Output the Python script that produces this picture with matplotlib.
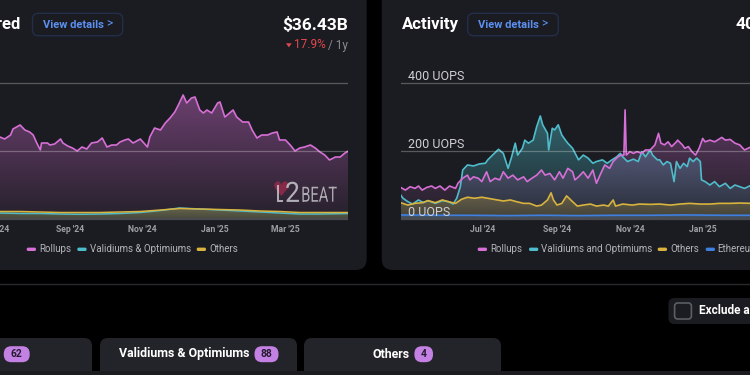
import numpy as np
import pandas as pd
import matplotlib
matplotlib.use('Agg')
import matplotlib.pyplot as plt
import matplotlib.colors as mcolors
import matplotlib.dates as mdates
from matplotlib.patches import FancyBboxPatch, PathPatch, Polygon, Rectangle
from matplotlib.lines import Line2D
from matplotlib.textpath import TextPath
from matplotlib.font_manager import FontProperties
from matplotlib.transforms import IdentityTransform, Affine2D

plt.rcParams['font.family'] = ['Roboto', 'DejaVu Sans']

# ---- data (days counted from 1 Jul 2024) ----
START = pd.Timestamp('2024-07-01')
tick_dates = ['2024-07-01', '2024-09-01', '2024-11-01', '2025-01-01', '2025-03-01']
tick_labels = ["Jul '24", "Sep '24", "Nov '24", "Jan '25", "Mar '25"]

# Value secured, $B
tvs_days = [3, 7, 12, 14, 20, 24, 28, 31, 34, 37, 38, 43, 45, 49, 54, 56, 60, 64, 68, 72,
            76, 80, 85, 89, 93, 97, 101, 104, 108, 111, 115, 121, 127, 129, 133, 138, 142, 146, 150, 153,
            157, 160, 164, 167, 171, 174, 177, 181, 186, 188, 192, 196, 199, 202, 207, 212, 215, 219, 223, 228,
            232, 236, 238, 243, 247, 251, 255, 259, 264, 268, 272, 276, 280, 285, 289, 293, 296]
tvs_rollups = [41, 40, 42, 45, 47, 44.5, 43.5, 42, 38, 34.5, 38, 38, 37, 37.5, 40, 38, 36.5, 35.5, 34, 36,
               35, 38, 38.5, 40.5, 36, 37, 37, 38.5, 39.5, 40, 38, 40, 36, 41, 45.5, 44.5, 48, 50.5, 53.5, 57,
               62, 58, 60.5, 61, 54.5, 53, 54.5, 53, 58, 58.5, 51, 53, 54.5, 51, 48.5, 48.5, 44.5, 40.5, 42, 42,
               43, 43.5, 39.5, 39.5, 37, 34, 35.5, 36, 37, 35.5, 33.5, 32, 29.5, 31, 31, 33, 34]
tvs_small_days = [3, 20, 37, 54, 70, 87, 104, 121, 138, 154, 171, 188, 205, 222, 238, 255, 272, 296]
tvs_others = [3.75, 3.75, 3.5, 3.25, 3.25, 3.25, 3.5, 3.75, 4.5, 5.25, 5, 4.75, 4.5, 4, 3.75, 3.25, 3.25, 3.25]
tvs_validiums = [3, 2.75, 2.75, 2.5, 2.35, 2.5, 2.75, 3.25, 4.25, 5.5, 5, 4.5, 4, 3.5, 3, 2.5, 2.5, 2.75]

# Activity, UOPS
act_roll_days = [-69, -65, -61, -57, -54, -51, -47, -43, -40, -36, -32, -28, -23, -21, -17, -13, -11, -8, -4, -1,
                 3, 6, 10, 14, 17, 21, 25, 29, 34, 37, 41, 45, 49, 52, 56, 60, 64, 67, 71, 75,
                 77, 80, 84, 88, 92, 95, 98, 102, 106, 109, 113, 116, 118, 119, 120, 123, 126, 129, 133, 136,
                 140, 144, 147, 149, 152, 155, 158, 162, 163, 167, 169, 172, 175, 178, 181, 184, 186, 190, 194, 200,
                 203, 207, 211, 215, 219, 225]
act_rollups = [93, 85, 95, 90, 97, 85, 93, 97, 90, 97, 85, 97, 90, 105, 120, 129, 115, 124, 120, 110,
               139, 110, 120, 115, 139, 120, 129, 115, 124, 110, 120, 129, 144, 129, 134, 115, 139, 120, 149, 139,
               115, 124, 139, 120, 144, 105, 129, 159, 149, 169, 183, 188, 188, 321, 188, 198, 193, 198, 193, 203,
               203, 218, 252, 223, 218, 227, 213, 227, 232, 218, 208, 213, 198, 188, 208, 237, 227, 232, 227, 240,
               232, 234, 223, 218, 203, 213]
act_val_days = [-69, -67, -63, -59, -54, -50, -46, -40, -34, -29, -25, -22, -19, -17, -13, -8, -3, 2, 4, 8,
                13, 17, 21, 24, 27, 29, 33, 35, 38, 42, 45, 48, 50, 54, 55, 58, 60, 63, 66, 69,
                71, 75, 80, 84, 88, 92, 95, 100, 104, 108, 112, 115, 117, 121, 126, 130, 133, 136, 140, 142,
                146, 148, 151, 154, 157, 160, 162, 165, 168, 171, 173, 176, 179, 182, 183, 186, 190, 194, 198, 203,
                207, 211, 215, 219, 225]
act_validiums = [71, 61, 51, 44, 56, 48, 54, 46, 54, 51, 44, 61, 95, 144, 159, 156, 162, 164, 174, 188,
                 205, 193, 149, 183, 223, 188, 208, 232, 223, 232, 272, 303, 277, 252, 203, 267, 262, 277, 247, 232,
                 223, 208, 174, 188, 179, 164, 169, 174, 164, 174, 183, 193, 183, 169, 176, 169, 198, 183, 203, 188,
                 174, 174, 159, 169, 164, 110, 169, 149, 164, 154, 179, 169, 179, 169, 115, 110, 100, 110, 95, 105,
                 90, 100, 95, 90, 100]
act_oth_days = [-69, -63, -57, -51, -46, -40, -34, -29, -23, -18, -13, -7, -1, 4, 12, 17, 23, 28, 34, 39,
                45, 49, 54, 57, 59, 62, 66, 70, 75, 79, 84, 90, 95, 101, 105, 109, 111, 117, 125, 131,
                140, 148, 157, 165, 173, 182, 190, 198, 207, 215, 225]
act_others = [48, 41, 46, 48, 54, 48, 56, 51, 46, 58, 64, 61, 64, 61, 56, 53, 56, 51, 46, 46,
              38, 41, 56, 77, 56, 41, 46, 68, 51, 38, 41, 44, 38, 41, 38, 56, 38, 44, 41, 44,
              43, 44, 41, 44, 46, 44, 44, 46, 46, 47, 46]
act_eth_days = [-69, -40, -10, 20, 50, 80, 110, 140, 170, 200, 225]
act_ethereum = [12, 11, 11, 10, 11, 10, 11, 11, 12, 11, 11]

PINK, TEAL, YELLOW, BLUE = '#d66fd6', '#4fbccb', '#d8b33e', '#3f7fe0'
CARD, TAB = '#1b1c21', '#232429'

W, H = 750, 375
fig = plt.figure(figsize=(W / 100, H / 100), dpi=100, facecolor='#000000')
PX = IdentityTransform()


def to_dates(days):
    return START + pd.to_timedelta(days, unit='D')


def box(x0, y0, x1, y1, color, r=8, ec='none', lw=0, z=0.5):
    fig.add_artist(FancyBboxPatch((x0, H - y1), x1 - x0, y1 - y0,
                                  boxstyle=f'round,pad=0,rounding_size={r}',
                                  fc=color, ec=ec, lw=lw, transform=PX, zorder=z))


def label(x, y, s, **kw):
    kw.setdefault('va', 'center')
    return fig.text(x / W, 1 - y / H, s, **kw)


def squeezed(x, y_base, s, size, sx, color, alpha=1.0, weight='normal', family='Roboto'):
    tp = TextPath((0, 0), s, size=size, prop=FontProperties(family=family, weight=weight))
    tr = Affine2D().scale(sx, 1).translate(x, H - y_base)
    fig.add_artist(PathPatch(tr.transform_path(tp), fc=color, ec='none', alpha=alpha,
                             transform=PX, zorder=4))


def chart_axes(x0, y0, x1, y1):
    ax = fig.add_axes([x0 / W, 1 - y1 / H, (x1 - x0) / W, (y1 - y0) / H])
    ax.set_zorder(2)
    ax.patch.set_alpha(0)
    for s in ax.spines.values():
        s.set_visible(False)
    ax.set_yticks([])
    return ax


def gradient_area(ax, days, vals, color, a_top, a_bot, z=1):
    x = to_dates(days)
    poly = ax.fill_between(x, vals, 0, facecolor='none', edgecolor='none')
    xn = mdates.date2num(x)
    grad = np.zeros((64, 1, 4))
    grad[:, 0, :3] = mcolors.to_rgb(color)
    grad[:, 0, 3] = np.linspace(a_top, a_bot, 64)
    im = ax.imshow(grad, aspect='auto', origin='upper', interpolation='bilinear',
                   extent=[xn[0], xn[-1], 0, max(vals)], zorder=z)
    im.set_clip_path(poly.get_paths()[0], ax.transData)


def finish_axes(ax, xlim_days, ylim, grid):
    xl = to_dates(xlim_days)
    ax.set_xlim(xl[0], xl[1])
    ax.set_ylim(*ylim)
    for g in grid:
        ax.axhline(g, color='white', alpha=0.27, lw=0.9, zorder=6)
    ax.axhline(0, color='#4a4b50', lw=1.6, zorder=6)
    ax.set_xticks(pd.to_datetime(tick_dates), tick_labels, fontweight='semibold')
    ax.tick_params(axis='x', length=0, pad=3.2, labelsize=6.2, labelcolor='#9d9da4')


def legend(items, y=249.3):
    for name, color, xs, xt in items:
        box(xs, y - 1.7, xs + 9.3, y + 1.7, color, r=1.5, z=3)
        label(xt, y, name, color='#b4b4bb', fontsize=7)


# ---- cards and page chrome ----
box(-20, -20, 366.7, 270, CARD, r=11)
box(381.7, -20, 790, 270, CARD, r=11)
fig.add_artist(Line2D([0, 1], [1 - 284 / H] * 2, transform=fig.transFigure, color='#2a2a2e', lw=1))

box(668.4, 298, 790, 324, CARD, r=6)
box(674.6, 303, 691.4, 319, CARD, r=3, ec='#5d5e64', lw=1.2, z=0.6)
label(698.6, 311, 'Exclude associated tokens', color='white', fontsize=8.5, fontweight='bold')

for x0, x1 in [(-20, 92), (100, 297), (304, 501)]:
    box(x0, 338, x1, 385, TAB, r=8)
fig.add_artist(Rectangle((0, 0), W, H - 371, fc='#1b1c20', ec='none', transform=PX, zorder=0.7))
label(118.7, 354, 'Validiums & Optimiums', color='white', fontsize=8.9, fontweight='bold')
label(372.7, 354, 'Others', color='white', fontsize=8.9, fontweight='bold')
for x0, x1, n in [(3.8, 29.7, '62'), (254.5, 278.5, '88'), (414.4, 433, '4')]:
    box(x0, 346.2, x1, 362.2, '#c481e4', r=7.5, z=0.8)
    label((x0 + x1) / 2, 354.4, n, ha='center', color='#241a2e', fontsize=7.4, fontweight='bold')

# ---- left card header ----
label(20.7, 24.5, 'Value Secured', ha='right', color='white', fontsize=12, fontweight='bold')
box(32.5, 13.3, 122.7, 35.7, CARD, r=6, ec='#222e4a', lw=1, z=0.6)
label(42.7, 24.5, 'View details', color='#5b8ff0', fontsize=8, fontweight='bold')
label(106, 24, '>', color='#5b8ff0', fontsize=8.5)
label(348.3, 24.5, '$36.43B', ha='right', color='white', fontsize=12.5, fontweight='bold')
label(348.3, 45, '/ 1y', ha='right', color='#8b8b92', fontsize=8.5)
label(326, 45, '17.9%', ha='right', color='#e5484d', fontsize=8.5)
fig.add_artist(Polygon([(286, H - 43.3), (291.7, H - 43.3), (288.85, H - 47.3)],
                       fc='#e5484d', ec='none', transform=PX, zorder=3))

# ---- right card header ----
label(401.7, 24.5, 'Activity', color='white', fontsize=12, fontweight='bold')
box(467.7, 13.3, 558.3, 35.7, CARD, r=6, ec='#222e4a', lw=1, z=0.6)
label(478.3, 24.5, 'View details', color='#5b8ff0', fontsize=8, fontweight='bold')
label(541.7, 24, '>', color='#5b8ff0', fontsize=8.5)
label(736, 24.5, '40', color='white', fontsize=12.5, fontweight='bold')

# ---- value secured chart ----
ax1 = chart_axes(-86, 80, 348, 221)
gradient_area(ax1, tvs_days, tvs_rollups, PINK, 0.43, 0.06)
gradient_area(ax1, tvs_small_days, tvs_validiums, TEAL, 0.2, 0.12)
gradient_area(ax1, tvs_small_days, tvs_others, YELLOW, 0.3, 0.18)
ax1.plot(to_dates(tvs_days), tvs_rollups, color=PINK, lw=1.2, zorder=3)
ax1.plot(to_dates(tvs_small_days), tvs_validiums, color=TEAL, lw=1.1, zorder=3)
ax1.plot(to_dates(tvs_small_days), tvs_others, color=YELLOW, lw=1.1, zorder=3)
finish_axes(ax1, [-69.16, 295.55], (-1, 69.5), [34, 68])

legend([('Rollups', PINK, 26.7, 39.3),
        ('Validiums & Optimiums', TEAL, 77.3, 90),
        ('Others', YELLOW, 196.7, 209)])

# L2BEAT watermark
squeezed(272.5, 196, '\u2665', 20, 1.0, '#8e2a4a', alpha=0.9, family='DejaVu Sans')
squeezed(276.2, 201.7, 'L', 23.5, 0.6, '#c4c4c8', alpha=0.85)
squeezed(285, 201.9, '2', 28, 0.95, '#cacace', alpha=0.85)
squeezed(301.2, 201.7, 'BEAT', 21, 0.7, '#c4c4c8', alpha=0.85)

# ---- activity chart ----
ax2 = chart_axes(401, 80, 835, 221)
gradient_area(ax2, act_val_days, act_validiums, TEAL, 0.45, 0.08)
gradient_area(ax2, act_roll_days, act_rollups, PINK, 0.35, 0.05)
gradient_area(ax2, act_oth_days, act_others, YELLOW, 0.3, 0.15)
gradient_area(ax2, act_eth_days, act_ethereum, BLUE, 0.3, 0.2)
ax2.plot(to_dates(act_val_days), act_validiums, color=TEAL, lw=1.2, zorder=3)
ax2.plot(to_dates(act_roll_days), act_rollups, color=PINK, lw=1.2, zorder=3)
ax2.plot(to_dates(act_oth_days), act_others, color=YELLOW, lw=1.2, zorder=3)
ax2.plot(to_dates(act_eth_days), act_ethereum, color=BLUE, lw=1.2, zorder=3)
finish_axes(ax2, [-68.68, 294.8], (-5.88, 408.8), [200, 400])
for v, s in [(400, '400 UOPS'), (200, '200 UOPS'), (0, '0 UOPS')]:
    ax2.annotate(s, xy=(7.3 / 434, v), xycoords=('axes fraction', 'data'), xytext=(0, 2.2),
                 textcoords='offset points', va='baseline', fontsize=9, color='#cfcfd4', zorder=7)

legend([('Rollups', PINK, 477.7, 490),
        ('Validiums and Optimiums', TEAL, 529, 540.7),
        ('Others', YELLOW, 657.7, 670),
        ('Ethereum', BLUE, 705.7, 717.7)])

fig.savefig('out.png', dpi=100, facecolor=fig.get_facecolor())
